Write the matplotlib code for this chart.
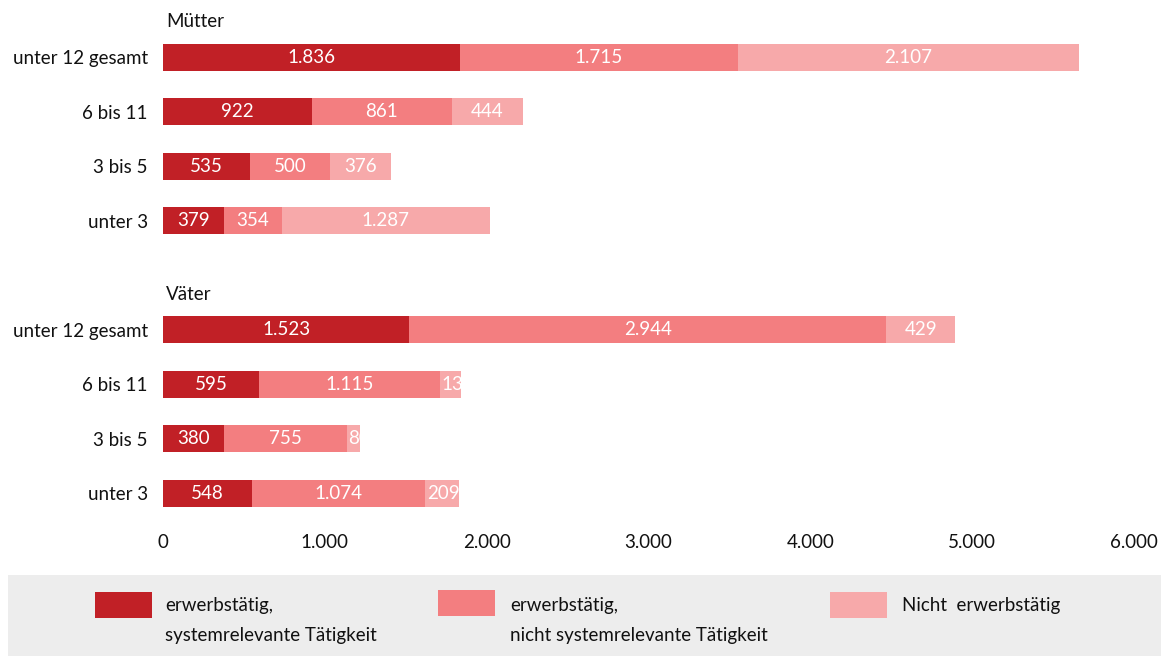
import matplotlib
matplotlib.use("Agg")
import matplotlib.pyplot as plt
from matplotlib.patches import Rectangle

plt.rcParams['font.family'] = ['Lato', 'DejaVu Sans']

groups = ["Mütter", "Väter"]
categories = ["unter 12 gesamt", "6 bis 11", "3 bis 5", "unter 3"]
series_names = ["erwerbstätig,\nsystemrelevante Tätigkeit",
                "erwerbstätig,\nnicht systemrelevante Tätigkeit",
                "Nicht  erwerbstätig"]
colors = ["#C12026", "#F37E80", "#F7A9AA"]

# values per group, per category: [systemrelevant, nicht systemrelevant, nicht erwerbstätig]
mutter_sys = [1836, 922, 535, 379]
mutter_nsys = [1715, 861, 500, 354]
mutter_nicht = [2107, 444, 376, 1287]
vater_sys = [1523, 595, 380, 548]
vater_nsys = [2944, 1115, 755, 1074]
vater_nicht = [429, 130, 80, 209]

xticks = [0, 1000, 2000, 3000, 4000, 5000, 6000]


def fmt(v):
    return f"{v:,}".replace(",", ".")


fig = plt.figure(figsize=(11.61, 6.56), dpi=100)
ax = fig.add_axes([0.1404, 0.198, 0.8363, 0.798])

data = [[mutter_sys, mutter_nsys, mutter_nicht],
        [vater_sys, vater_nsys, vater_nicht]]

fs = 13.5
ypos = []
ylabels = []
for g, (name, series) in enumerate(zip(groups, data)):
    base = g * 5
    ax.text(20, base - 0.65, name, fontsize=fs, ha="left", va="center", color="#111111")
    for i, cat in enumerate(categories):
        y = base + i
        ypos.append(y)
        ylabels.append(cat)
        left = 0
        for s in range(3):
            v = series[s][i]
            bars = ax.barh(y, v, left=left, height=0.5, color=colors[s], edgecolor="none")
            width_px = v * 0.1618
            if width_px > 40:
                ax.text(left + v / 2, y, fmt(v), ha="center", va="center",
                        color="white", fontsize=fs)
            else:
                t = ax.text(left + 8, y, fmt(v), ha="left", va="center",
                            color="white", fontsize=fs)
                t.set_clip_path(bars[0])
            left += v

ax.set_xlim(0, 6000)
ax.set_ylim(8.6, -1.0)
ax.set_yticks(ypos)
ax.set_yticklabels(ylabels, fontsize=fs, color="#111111")
ax.set_xticks(xticks)
ax.set_xticklabels([fmt(x) for x in xticks], fontsize=fs, color="#111111")
ax.tick_params(length=0, axis="y", pad=11)
ax.tick_params(length=0, axis="x", pad=6)
for sp in ax.spines.values():
    sp.set_visible(False)

# legend box
fig.patches.append(Rectangle((8 / 1161, 0), 1 - 8 / 1161, 81 / 656,
                             transform=fig.transFigure, facecolor="#EDEDED",
                             edgecolor="none", zorder=0))
leg_x = [95, 438, 830]
leg_y = [592, 590, 592]
text_x = [165, 510, 902]
for k in range(3):
    fig.patches.append(Rectangle((leg_x[k] / 1161, 1 - (leg_y[k] + 26) / 656),
                                 57 / 1161, 26 / 656, transform=fig.transFigure,
                                 facecolor=colors[k], edgecolor="none", zorder=1))
    lines = series_names[k].split("\n")
    for j, ln in enumerate(lines):
        fig.text(text_x[k] / 1161, 1 - (606 + 30 * j) / 656, ln, fontsize=fs,
                 ha="left", va="center", color="#111111")

fig.savefig("out.png", dpi=100)
